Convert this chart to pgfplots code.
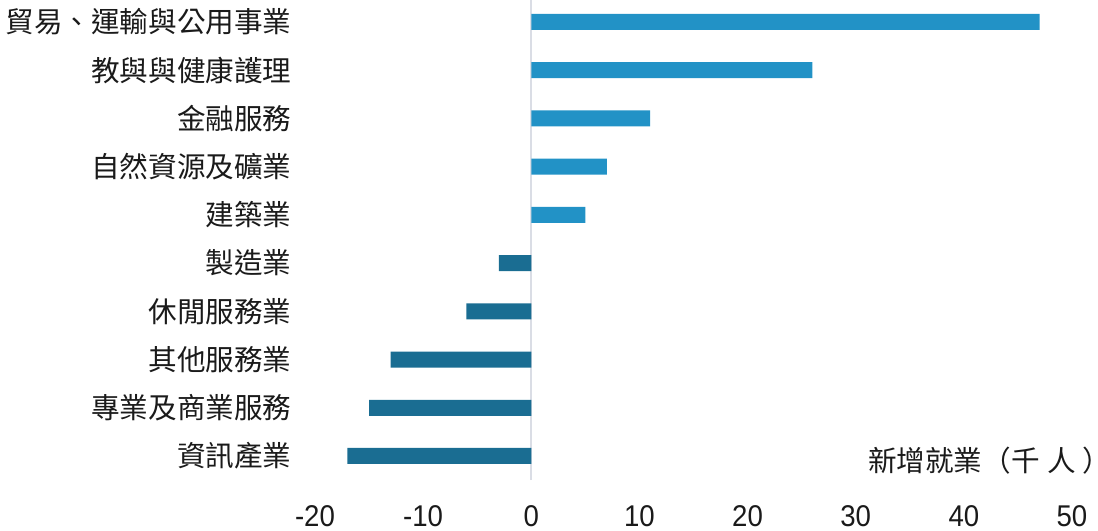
\documentclass[border=0pt]{standalone}
\usepackage{fontspec}
\usepackage{pgfplots}
\pgfplotsset{compat=1.18}
\usepackage{pgfplotstable}
\newfontfamily\cjk{Noto Sans CJK TC}
\newfontfamily\num[FakeStretch=0.92]{Liberation Sans}
\definecolor{posblue}{HTML}{2292C6}
\definecolor{negblue}{HTML}{1A6D92}
\definecolor{zeroline}{HTML}{DADDE5}
\definecolor{txt}{HTML}{1A1A1A}

% y = row from bottom, x = new jobs (thousands)
\pgfplotstableread{
y x
9 47
8 26
7 11
6 7
5 5
}\pos
\pgfplotstableread{
y x
4 -3
3 -6
2 -13
1 -15
0 -17
}\neg

\begin{document}
\begin{tikzpicture}
\useasboundingbox (-157.5bp,-25.5bp) rectangle (391.5bp,240bp);
\begin{axis}[
    at={(0,0)}, anchor=south west,
    scale only axis,
    width=378.5bp, height=240bp,
    xbar, bar width=8bp, bar shift=0pt,
    xmin=-20, xmax=50,
    ymin=-0.498, ymax=9.456,
    xtick={-20,-10,...,50},
    ytick={0,...,9},
    yticklabels={資訊產業,專業及商業服務,其他服務業,休閒服務業,製造業,建築業,自然資源及礦業,金融服務,教與與健康護理,貿易、運輸與公用事業},
    axis line style={draw=none},
    major tick length=0pt,
    xticklabel style={font=\num\fontsize{15bp}{17bp}\selectfont, text=txt, inner sep=0pt, anchor=north, yshift=-12.5bp},
    yticklabel style={font=\cjk\fontsize{14.3bp}{17bp}\selectfont, text=txt, inner sep=0pt, anchor=east, xshift=-11.5bp},
    /pgf/number format/assume math mode=true,
    extra x ticks={0}, extra x tick labels={},
    extra x tick style={grid=major, major grid style={draw=zeroline, line width=1.2bp}},
    clip=false,
]
\addplot[draw=none, fill=posblue] table[x=x, y=y] {\pos};
\addplot[draw=none, fill=negblue] table[x=x, y=y] {\neg};
\node[anchor=west, inner sep=0pt, font=\cjk\fontsize{14.3bp}{17bp}\selectfont, text=txt] at (axis cs:31.1,-0.1) {新增就業（千\hspace{4bp}人\hspace{3bp}）};
\end{axis}
\end{tikzpicture}
\end{document}
